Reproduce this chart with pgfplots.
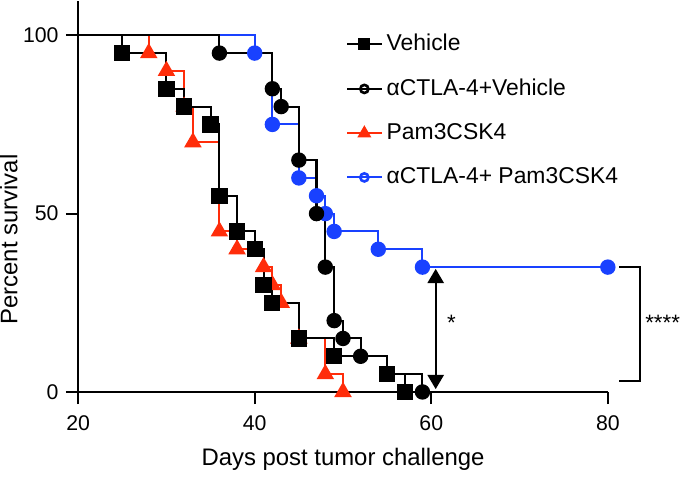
\documentclass[border=0pt]{standalone}
\usepackage{fontspec}
\setmainfont{Liberation Sans}
\usepackage{pgfplots}
\pgfplotsset{compat=1.18}
\usepackage{pgfplotstable}
\usetikzlibrary{arrows.meta}
\definecolor{cRed}{RGB}{255,45,10}
\definecolor{cBlue}{RGB}{25,65,255}

% Kaplan-Meier steps: day, percent surviving
\pgfplotstableread{
x y
20 100
25 95
30 85
32 80
35 75
36 55
38 45
40 40
41 30
42 25
45 15
49 10
55 5
57 0
}\veh
\pgfplotstableread{
x y
20 100
36 95
42 85
43 80
45 65
47 50
48 35
49 20
50 15
52 10
55 5
59 0
}\ctla
\pgfplotstableread{
x y
20 100
28 95
30 90
32 80
33 70
36 45
38 40
41 35
42 30
43 25
45 15
48 5
50 0
}\pam
\pgfplotstableread{
x y
20 100
40 95
42 75
45 60
47 55
48 50
49 45
54 40
59 35
80 35
}\combo

\begin{document}
\fontsize{10.5}{12}\selectfont
\begin{tikzpicture}
\begin{axis}[
  scale only axis, width=261.5pt, height=193pt,
  xmin=20, xmax=80, ymin=0, ymax=109.6,
  axis lines*=left, axis line style={line width=1pt},
  xtick={20,40,60,80}, ytick={0,50,100},
  tick align=outside, major tick length=6pt,
  tick style={line width=1pt, black},
  /pgf/number format/assume math mode=true,
  tick label style={font=\fontsize{10.5}{12}\selectfont},
  xticklabel style={yshift=-2pt},
  xlabel={Days post tumor challenge},
  ylabel={Percent survival},
  label style={font=\fontsize{11.8}{13}\selectfont},
  ylabel style={at={(ticklabel cs:0.39)}, inner sep=0pt},
  ylabel shift=-1pt,
  xlabel shift=1.5pt,
  clip=false,
  legend style={draw=none, fill=none, at={(axis cs:50.3,101.5)}, anchor=north west,
    font=\fontsize{11.3}{13}\selectfont, row sep=8.3pt, inner sep=0pt},
  legend cell align=left,
  every axis plot/.append style={line width=1pt},
]
\addlegendimage{black, mark=square*, mark size=2.4pt}
\addlegendentry{Vehicle}
\addlegendimage{black, mark=o, mark size=2pt, mark options={line width=1.3pt}}
\addlegendentry{αCTLA-4+Vehicle}
\addlegendimage{cRed, mark=triangle*, mark size=3pt}
\addlegendentry{Pam3CSK4}
\addlegendimage{cBlue, mark=o, mark size=2pt, mark options={line width=1.3pt}}
\addlegendentry{αCTLA-4+ Pam3CSK4}

% red
\addplot[cRed, const plot, forget plot] table[x=x,y=y] {\pam};
\addplot[cRed, only marks, mark=triangle*, mark size=4pt, skip coords between index={0}{1}, forget plot] table[x=x,y=y] {\pam};
% vehicle
\addplot[black, const plot, forget plot] table[x=x,y=y] {\veh};
\addplot[black, only marks, mark=square*, mark size=3.5pt, skip coords between index={0}{1}, forget plot] table[x=x,y=y] {\veh};
% combo
\addplot[cBlue, const plot, forget plot] table[x=x,y=y] {\combo};
\addplot[cBlue, only marks, mark=*, mark size=3.3pt, skip coords between index={0}{1}, forget plot] table[x=x,y=y] {\combo};
% anti-CTLA-4
\addplot[black, const plot, forget plot] table[x=x,y=y] {\ctla};
\addplot[black, only marks, mark=*, mark size=3.3pt, skip coords between index={0}{1}, forget plot] table[x=x,y=y] {\ctla};

% significance annotations
\draw[line width=1pt, {Triangle[length=7pt,width=8pt]}-{Triangle[length=7pt,width=8pt]}]
  (axis cs:60.5,34.5) -- (axis cs:60.5,0.8);
\node[font=\fontsize{11}{13}\selectfont] at (axis cs:62.3,19.5) {*};
\draw[line width=1pt] (axis cs:81.3,35) -- (axis cs:83.6,35) -- (axis cs:83.6,3) -- (axis cs:81.3,3);
\node[anchor=west, inner sep=0pt, font=\fontsize{11}{13}\selectfont] at (axis cs:84.2,19.5) {****};
\end{axis}
\end{tikzpicture}
\end{document}
